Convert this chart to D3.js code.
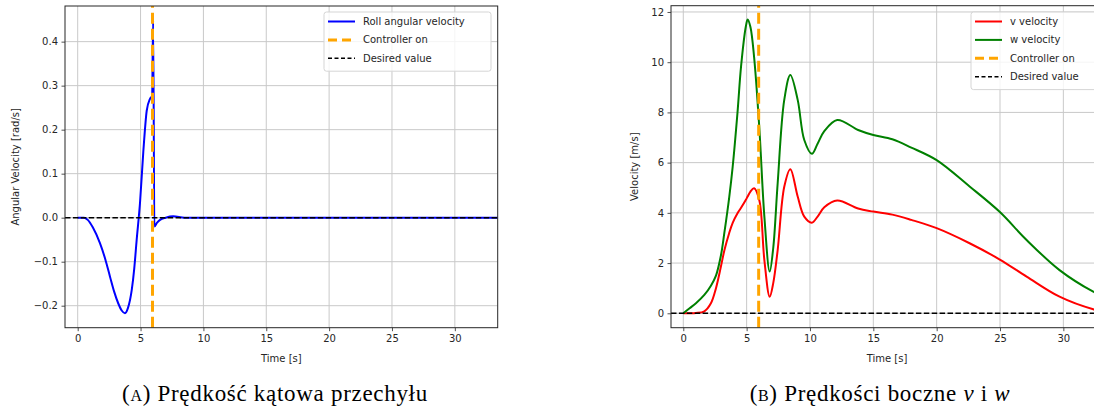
<!DOCTYPE html>
<html>
<head>
<meta charset="utf-8">
<script src="https://cdn.jsdelivr.net/npm/d3@7"></script>
<style>
  html, body { margin: 0; padding: 0; background: #fff; overflow: hidden; }
  svg { display: block; }
  .tick text { font-family: "DejaVu Sans", sans-serif; font-size: 10px; fill: #262626; }
</style>
</head>
<body>
<svg id="chart" width="1094" height="414"></svg>
<script>
// ---------- Data ----------
const rollTime = [0, 0.5, 0.8, 1.2, 1.77, 2.2, 2.57, 2.9, 3.23, 3.5, 3.76, 4.0, 4.3, 4.5, 4.69, 4.96, 5.22, 5.49, 5.75, 5.92, 6.0, 6.1, 6.3, 6.55, 7.0, 7.6, 8.5, 10, 15, 20, 25, 30, 33.5];
const rollVel  = [0, 0, -0.005, -0.022, -0.058, -0.095, -0.134, -0.168, -0.195, -0.211, -0.217, -0.205, -0.164, -0.115, -0.051, 0.035, 0.15, 0.243, 0.27, 0.277, 0.449, -0.02, -0.012, -0.005, 0.0, 0.003, 0.0, 0, 0, 0, 0, 0, 0];

const vwTime = [0, 0.5, 1.0, 1.66, 2.18, 2.58, 2.97, 3.24, 3.62, 3.9, 4.28, 4.56, 4.93, 5.08, 5.3, 5.59, 6.0, 6.4, 6.82, 7.1, 7.45, 7.97, 8.45, 9.03, 9.55, 10.15, 10.6, 11.13, 12.15, 13.8, 15.0, 16.5, 18, 20, 22.6, 24.95, 27.1, 29.7, 32.36, 33.5];
const vVel = [0, 0, 0.01, 0.08, 0.4, 1.0, 1.86, 2.5, 3.19, 3.6, 3.98, 4.2, 4.51, 4.65, 4.85, 4.98, 4.5, 2.12, 0.66, 1.2, 2.52, 5.04, 5.74, 4.65, 3.85, 3.61, 3.85, 4.22, 4.49, 4.17, 4.05, 3.93, 3.72, 3.39, 2.79, 2.15, 1.46, 0.66, 0.16, 0.05];
const wVel = [0, 0.2, 0.4, 0.73, 1.1, 1.5, 2.3, 3.2, 4.6, 5.84, 8.0, 9.83, 11.4, 11.7, 11.4, 10.2, 7.4, 3.85, 1.66, 2.6, 5.18, 8.5, 9.49, 8.5, 6.9, 6.35, 6.75, 7.25, 7.7, 7.3, 7.1, 6.93, 6.6, 6.1, 5.05, 4.05, 2.92, 1.72, 0.86, 0.6];

const controllerOn = 5.95;
const desiredValue = 0;

const xTicks = [0, 5, 10, 15, 20, 25, 30];
const yTicksLeft = [-0.2, -0.1, 0.0, 0.1, 0.2, 0.3, 0.4];
const yTicksRight = [0, 2, 4, 6, 8, 10, 12];

const legendLeft = [
  {label: "Roll angular velocity", color: "#0000ff", dash: null, w: 2},
  {label: "Controller on", color: "#ffa500", dash: "9,5", w: 3},
  {label: "Desired value", color: "#000000", dash: "4,2.5", w: 1.5}
];
const legendRight = [
  {label: "v velocity", color: "#ff0000", dash: null, w: 2},
  {label: "w velocity", color: "#008000", dash: null, w: 2},
  {label: "Controller on", color: "#ffa500", dash: "9,5", w: 3},
  {label: "Desired value", color: "#000000", dash: "4,2.5", w: 1.5}
];

// ---------- Drawing ----------
const svg = d3.select("#chart");
const minus = s => s.replace("-", "\u2212");

function panel(cfg) {
  const x = d3.scaleLinear().domain(cfg.xDomain).range([cfg.x0, cfg.x1]);
  const y = d3.scaleLinear().domain(cfg.yDomain).range([cfg.y1, cfg.y0]);
  const g = svg.append("g");

  const clipId = "clip" + cfg.id;
  svg.append("defs").append("clipPath").attr("id", clipId)
    .append("rect").attr("x", cfg.x0).attr("y", cfg.y0)
    .attr("width", cfg.x1 - cfg.x0).attr("height", cfg.y1 - cfg.y0);

  // grid
  const grid = g.append("g").attr("clip-path", `url(#${clipId})`);
  grid.selectAll(".gx").data(xTicks).join("line")
    .attr("x1", d => x(d)).attr("x2", d => x(d))
    .attr("y1", cfg.y0).attr("y2", cfg.y1)
    .attr("stroke", "#c9c9c9").attr("stroke-width", 1);
  grid.selectAll(".gy").data(cfg.yTicks).join("line")
    .attr("x1", cfg.x0).attr("x2", cfg.x1)
    .attr("y1", d => y(d)).attr("y2", d => y(d))
    .attr("stroke", "#c9c9c9").attr("stroke-width", 1);

  const plot = g.append("g").attr("clip-path", `url(#${clipId})`);

  cfg.series.forEach(s => {
    const line = d3.line().curve(s.curve).x(d => x(d[0])).y(d => y(d[1]));
    plot.append("path")
      .datum(s.t.map((t, i) => [t, s.v[i]]))
      .attr("d", line)
      .attr("fill", "none").attr("stroke", s.color).attr("stroke-width", 2)
      .attr("stroke-linejoin", "round");
  });

  // controller on
  plot.append("line")
    .attr("x1", x(controllerOn)).attr("x2", x(controllerOn))
    .attr("y1", cfg.y1).attr("y2", cfg.y0)
    .attr("stroke", "#ffa500").attr("stroke-width", 3).attr("stroke-dasharray", "11,5");
  // desired value
  plot.append("line")
    .attr("x1", x(cfg.xDomain[0])).attr("x2", x(cfg.xDomain[1]))
    .attr("y1", y(desiredValue)).attr("y2", y(desiredValue))
    .attr("stroke", "#000").attr("stroke-width", 1.5).attr("stroke-dasharray", "5.5,2.4");

  // axes
  const xa = g.append("g").attr("transform", `translate(0,${cfg.y1})`)
    .call(d3.axisBottom(x).tickValues(xTicks).tickFormat(d3.format("d")).tickSize(3.5).tickPadding(3.5).tickSizeOuter(0));
  const ya = g.append("g").attr("transform", `translate(${cfg.x0},0)`)
    .call(d3.axisLeft(y).tickValues(cfg.yTicks).tickFormat(d => minus(cfg.fmt(d))).tickSize(3.5).tickPadding(3.5).tickSizeOuter(0));
  [xa, ya].forEach(a => {
    a.select(".domain").remove();
    a.selectAll(".tick line").attr("stroke", "#262626").attr("stroke-width", 0.8);
  });

  // spines
  g.append("rect").attr("x", cfg.x0).attr("y", cfg.y0)
    .attr("width", cfg.x1 - cfg.x0).attr("height", cfg.y1 - cfg.y0)
    .attr("fill", "none").attr("stroke", "#262626").attr("stroke-width", 1);

  // labels
  g.append("text").attr("x", (cfg.x0 + cfg.x1) / 2).attr("y", 362)
    .attr("text-anchor", "middle")
    .style("font-family", "DejaVu Sans, sans-serif").style("font-size", "10px").attr("fill", "#262626")
    .text("Time [s]");
  g.append("text")
    .attr("transform", `translate(${cfg.ylabX},${(cfg.y0 + cfg.y1) / 2}) rotate(-90)`)
    .attr("text-anchor", "middle").attr("dy", "0.35em")
    .style("font-family", "DejaVu Sans, sans-serif").style("font-size", "10px").attr("fill", "#262626")
    .text(cfg.ylabel);

  // legend
  const L = cfg.legend;
  const lg = g.append("g");
  lg.append("rect").attr("x", L.x).attr("y", L.y).attr("width", L.w).attr("height", L.items.length * 18.4 + 4)
    .attr("rx", 2.5).attr("fill", "#fff").attr("fill-opacity", 0.8)
    .attr("stroke", "#d5d5d5").attr("stroke-width", 1);
  L.items.forEach((it, i) => {
    const cy = L.y + 9.5 + i * 18.4;
    lg.append("line").attr("x1", L.x + 4).attr("x2", L.x + 31).attr("y1", cy).attr("y2", cy)
      .attr("stroke", it.color).attr("stroke-width", it.w)
      .attr("stroke-dasharray", it.dash);
    lg.append("text").attr("x", L.x + 39).attr("y", cy).attr("dy", "0.35em")
      .style("font-family", "DejaVu Sans, sans-serif").style("font-size", "10px").attr("fill", "#262626")
      .text(it.label);
  });
}

panel({
  id: "L", x0: 65, x1: 497.7, y0: 6, y1: 327.7,
  xDomain: [-1.01, 33.41], yDomain: [-0.25, 0.481],
  yTicks: yTicksLeft, fmt: d3.format(".1f"),
  series: [{t: rollTime, v: rollVel, color: "#0000ff", curve: d3.curveMonotoneX}],
  ylabel: "Angular Velocity [rad/s]", ylabX: 15,
  legend: {x: 324, y: 12, w: 167, items: legendLeft}
});

panel({
  id: "R", x0: 671, x1: 1103, y0: 5.7, y1: 327.7,
  xDomain: [-0.97, 33.13], yDomain: [-0.574, 12.25],
  yTicks: yTicksRight, fmt: d3.format("d"),
  series: [
    {t: vwTime, v: vVel, color: "#ff0000", curve: d3.curveCatmullRom.alpha(0.5)},
    {t: vwTime, v: wVel, color: "#008000", curve: d3.curveCatmullRom.alpha(0.5)}
  ],
  ylabel: "Velocity [m/s]", ylabX: 634,
  legend: {x: 971, y: 12, w: 140, items: legendRight}
});

// captions
function caption(cx, parts) {
  const t = svg.append("text").attr("x", cx).attr("y", 401).attr("text-anchor", "middle")
    .style("font-family", "'Liberation Serif', 'DejaVu Serif', serif").style("font-size", "23px")
    .style("letter-spacing", "0.7px").attr("fill", "#000");
  parts.forEach(p => {
    const s = t.append("tspan").text(p.text);
    if (p.sc) s.style("font-variant", "small-caps");
    if (p.it) s.style("font-style", "italic");
  });
}
caption(275, [{text: "(", sc: false}, {text: "a", sc: true}, {text: ") Prędkość kątowa przechyłu"}]);
caption(880, [{text: "(", sc: false}, {text: "b", sc: true}, {text: ") Prędkości boczne "}, {text: "v", it: true}, {text: " i "}, {text: "w", it: true}]);
</script>
</body>
</html>
